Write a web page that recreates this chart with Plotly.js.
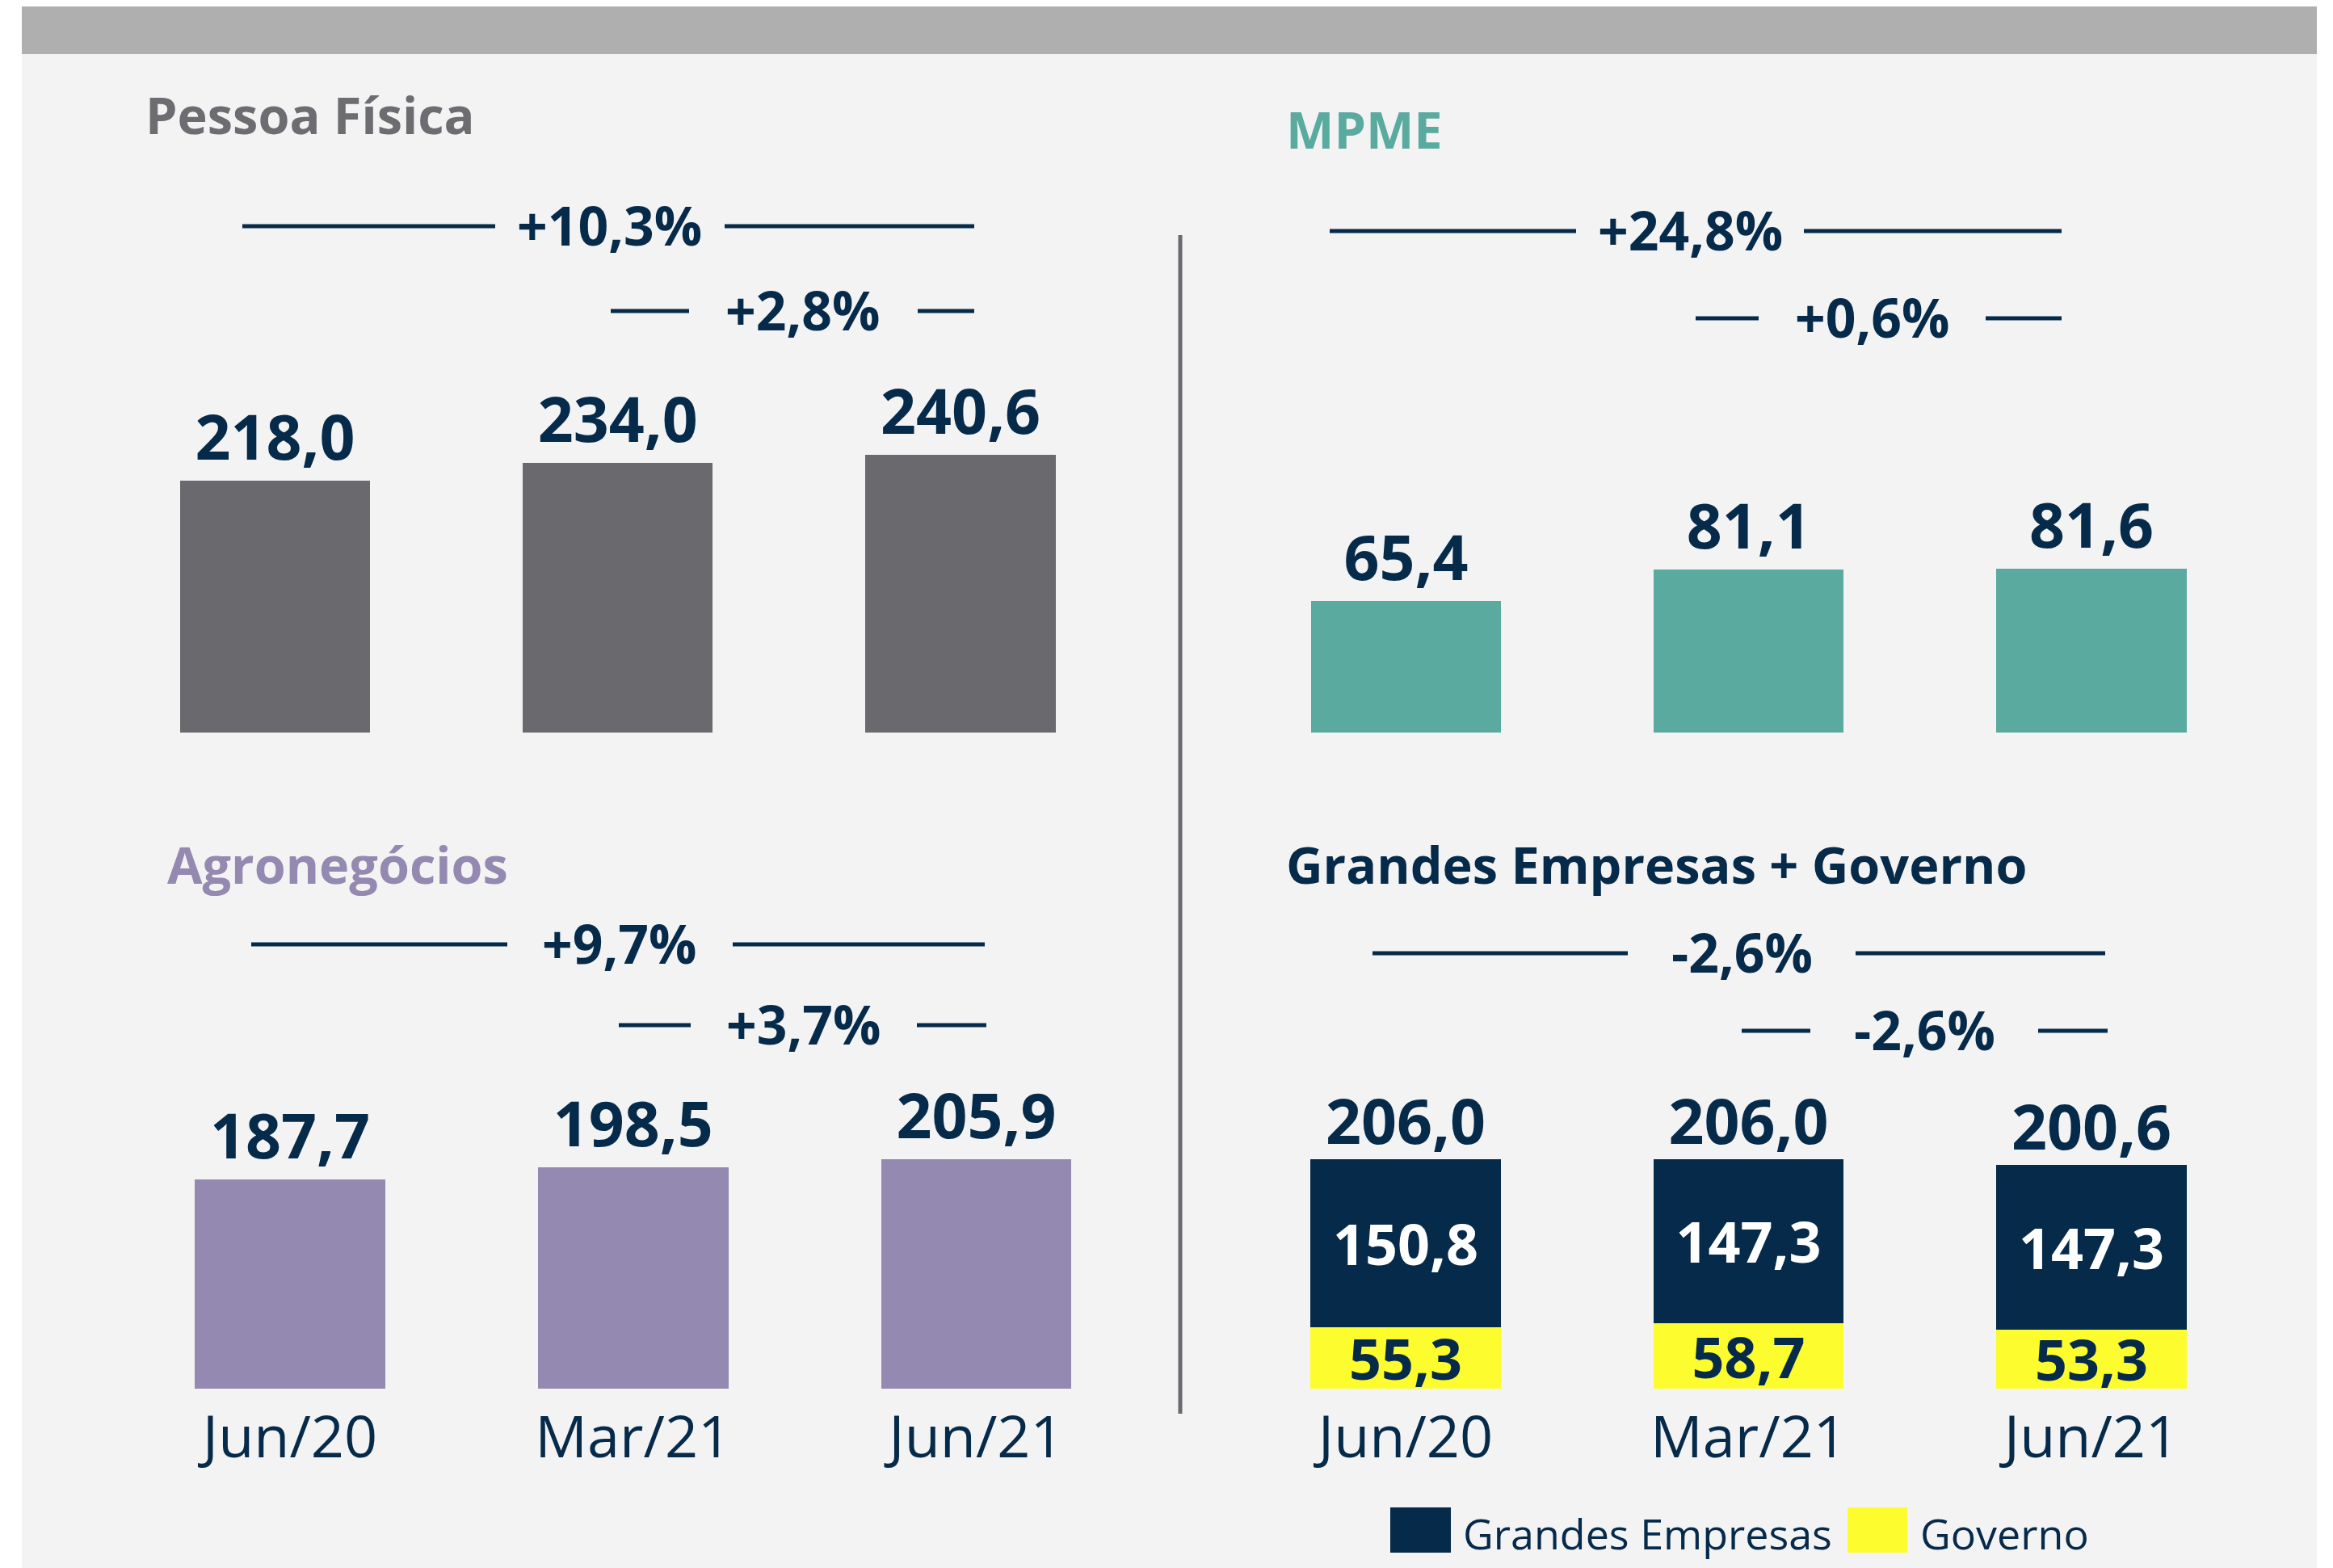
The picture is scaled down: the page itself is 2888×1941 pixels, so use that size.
<!DOCTYPE html>
<html><head><meta charset="utf-8">
<script src="https://cdn.plot.ly/plotly-3.0.1.min.js"></script>
<style>html,body{margin:0;padding:0;background:#fff}</style>
</head><body><div id="chart" style="width:2888px;height:1941px"></div>
<script>
// ---------- DATA ----------
const categories = ['Jun/20', 'Mar/21', 'Jun/21'];
const pessoaFisica = [218.0, 234.0, 240.6];
const mpme = [65.4, 81.1, 81.6];
const agronegocios = [187.7, 198.5, 205.9];
const grandesEmpresas = [150.8, 147.3, 147.3];
const governo = [55.3, 58.7, 53.3];
const geTotals = [206.0, 206.0, 200.6];
const pfChanges = ['+10,3%', '+2,8%'];
const mpmeChanges = ['+24,8%', '+0,6%'];
const agroChanges = ['+9,7%', '+3,7%'];
const geChanges = ['-2,6%', '-2,6%'];
const panelTitles = ['Pessoa Física', 'MPME', 'Agronegócios', 'Grandes Empresas + Governo'];
const seriesNames = ['Grandes Empresas', 'Governo'];

// ---------- STYLE / LAYOUT ----------
const W = 2888, H = 1941;
const NAVY = '#062a4a', GRAY = '#6a696e', TEAL = '#5baa9f', PURPLE = '#9489b0', YELLOW = '#fcfc2e';
const FONT = 'Open Sans, Noto Sans, sans-serif';
const px2x = p => p / W;
const px2y = p => 1 - p / H;

function xAx(L, R, c0, sp, labels, anchor) {
  return {
    type: 'category', categoryarray: categories, categoryorder: 'array', anchor: anchor,
    domain: [L / W, R / W], range: [(L - c0) / sp, (R - c0) / sp],
    showgrid: false, zeroline: false, showline: false, ticks: '',
    showticklabels: labels, ticklabelstandoff: 12,
    tickfont: {family: FONT, size: 72, color: NAVY, weight: 400},
    fixedrange: true
  };
}
function yAx(top, base, scale, anchor) {
  return {
    anchor: anchor,
    domain: [1 - base / H, 1 - top / H], range: [0, (base - top) / scale],
    showgrid: false, zeroline: false, showline: false, showticklabels: false, ticks: '',
    fixedrange: true
  };
}

const BARW = 235.5 / 424.5;
const valFont = {family: FONT, size: 77, color: NAVY, weight: 700};

function simpleBar(y, color, xa, ya) {
  return {
    type: 'bar', x: categories, y: y, xaxis: xa, yaxis: ya,
    marker: {color: color, line: {width: 0}}, width: BARW,
    texttemplate: '%{y:.1f}', textposition: 'outside', textfont: valFont,
    cliponaxis: false, constraintext: 'none', hoverinfo: 'skip', showlegend: false
  };
}

const data = [
  simpleBar(pessoaFisica, GRAY, 'x', 'y'),
  simpleBar(mpme, TEAL, 'x2', 'y2'),
  simpleBar(agronegocios, PURPLE, 'x3', 'y3'),
  {
    type: 'bar', name: seriesNames[1], x: categories, y: governo, xaxis: 'x4', yaxis: 'y4',
    marker: {color: YELLOW, line: {width: 0}}, width: BARW,
    texttemplate: '%{y:.1f}', textposition: 'inside', insidetextanchor: 'middle', textangle: 0,
    textfont: {family: FONT, size: 70, color: NAVY, weight: 700},
    constraintext: 'none', cliponaxis: false, hoverinfo: 'skip', showlegend: false
  },
  {
    type: 'bar', name: seriesNames[0], x: categories, y: grandesEmpresas, xaxis: 'x4', yaxis: 'y4',
    marker: {color: NAVY, line: {width: 0}}, width: BARW,
    texttemplate: '%{y:.1f}', textposition: 'inside', insidetextanchor: 'middle', textangle: 0,
    textfont: {family: FONT, size: 70, color: '#ffffff', weight: 700},
    constraintext: 'none', cliponaxis: false, hoverinfo: 'skip', showlegend: false
  },
  {
    type: 'scatter', mode: 'text', x: categories, y: geTotals, xaxis: 'x4', yaxis: 'y4',
    texttemplate: '%{y:.1f}', textposition: 'top center', textfont: valFont,
    cliponaxis: false, hoverinfo: 'skip', showlegend: false
  }
];

const shapes = [
  {type: 'rect', xref: 'paper', yref: 'paper', x0: px2x(27), x1: px2x(2868), y0: px2y(1941), y1: px2y(67),
   fillcolor: '#f3f3f3', line: {width: 0}, layer: 'below'},
  {type: 'rect', xref: 'paper', yref: 'paper', x0: px2x(27), x1: px2x(2868), y0: px2y(67), y1: px2y(8),
   fillcolor: '#afafaf', line: {width: 0}, layer: 'below'},
  {type: 'line', xref: 'paper', yref: 'paper', x0: px2x(1461), x1: px2x(1461), y0: px2y(291), y1: px2y(1750),
   line: {color: GRAY, width: 5}}
];

const annotations = [];

// connectors: [y, x0, x1, x2, x3] in px
const connectors = [
  {lbl: pfChanges[0], pos: [280, 300, 613, 897, 1206]},
  {lbl: pfChanges[1], pos: [385, 756, 853, 1136, 1206]},
  {lbl: mpmeChanges[0], pos: [286, 1646, 1951, 2233, 2552]},
  {lbl: mpmeChanges[1], pos: [394, 2099, 2177, 2458, 2552]},
  {lbl: agroChanges[0], pos: [1169, 311, 628, 907, 1219]},
  {lbl: agroChanges[1], pos: [1269, 766, 855, 1135, 1221]},
  {lbl: geChanges[0], pos: [1180, 1699, 2015, 2297, 2606]},
  {lbl: geChanges[1], pos: [1276, 2156, 2241, 2523, 2609]}
];
connectors.forEach(c => {
  const [y, a, b, d, e] = c.pos;
  shapes.push({type: 'line', xref: 'paper', yref: 'paper', x0: px2x(a), x1: px2x(b), y0: px2y(y), y1: px2y(y), line: {color: NAVY, width: 5}});
  shapes.push({type: 'line', xref: 'paper', yref: 'paper', x0: px2x(d), x1: px2x(e), y0: px2y(y), y1: px2y(y), line: {color: NAVY, width: 5}});
  annotations.push({xref: 'paper', yref: 'paper', x: px2x((b + d) / 2), y: px2y(y - 2), xanchor: 'center', yanchor: 'middle',
    text: c.lbl, showarrow: false, font: {family: FONT, size: 66, color: NAVY, weight: 700}});
});

// panel titles
const titlePos = [[178, 141, '#6d6c71'], [1590, 159, TEAL], [205, 1069, PURPLE], [1590, 1069, NAVY]];
panelTitles.forEach((t, i) => {
  annotations.push({xref: 'paper', yref: 'paper', x: px2x(titlePos[i][0]), y: px2y(titlePos[i][1]), xanchor: 'left', yanchor: 'middle',
    text: t, showarrow: false, font: {family: FONT, size: 63, color: titlePos[i][2], weight: 700}});
});

// manual legend
const legendItems = [[1721, 1796, NAVY, 1809, seriesNames[0]], [2287, 2361, YELLOW, 2375, seriesNames[1]]];
legendItems.forEach(li => {
  shapes.push({type: 'rect', xref: 'paper', yref: 'paper', x0: px2x(li[0]), x1: px2x(li[1]), y0: px2y(1922), y1: px2y(1866),
    fillcolor: li[2], line: {width: 0}});
  annotations.push({xref: 'paper', yref: 'paper', x: px2x(li[3]), y: px2y(1897), xanchor: 'left', yanchor: 'middle',
    text: li[4], showarrow: false, font: {family: FONT, size: 52, color: NAVY, weight: 400}});
});

const layout = {
  width: W, height: H, margin: {l: 0, r: 0, t: 0, b: 0, pad: 0},
  paper_bgcolor: '#ffffff', plot_bgcolor: 'rgba(0,0,0,0)',
  separators: ',.', barmode: 'stack', bargap: 0, showlegend: false,
  font: {family: FONT, color: NAVY},
  xaxis: xAx(100, 1420, 340.5, 424.3, false, 'y'),
  yaxis: yAx(400, 906.7, 1.428, 'x'),
  xaxis2: xAx(1500, 2850, 1740.5, 424.3, false, 'y2'),
  yaxis2: yAx(400, 906.7, 2.487, 'x2'),
  xaxis3: xAx(100, 1440, 359, 424.75, true, 'y3'),
  yaxis3: yAx(1300, 1719, 1.38, 'x3'),
  xaxis4: xAx(1500, 2850, 1740, 424.5, true, 'y4'),
  yaxis4: yAx(1300, 1719, 1.379, 'x4'),
  shapes: shapes, annotations: annotations
};

Plotly.newPlot('chart', data, layout, {displayModeBar: false, staticPlot: true});
</script></body></html>
